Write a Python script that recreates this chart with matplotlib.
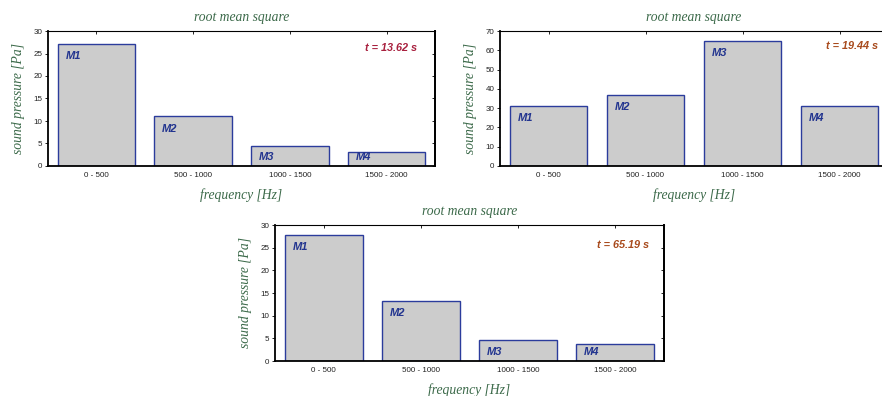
import matplotlib.pyplot as plt
import numpy as np

# category labels and bar names
bands = ["0 - 500", "500 - 1000", "1000 - 1500", "1500 - 2000"]
mic_names = ["M1", "M2", "M3", "M4"]

# rms sound pressure for each snapshot [Pa]
rms_t1 = [27.2, 11.0, 4.5, 3.1]
rms_t2 = [30.9, 36.8, 65.0, 31.0]
rms_t3 = [27.9, 13.2, 4.7, 3.8]

times = [13.62, 19.44, 65.19]
y_max = [30, 70, 30]
y_step = [5, 10, 5]

GREEN = "#3c6a4a"
BAR_EDGE = "#2b3c9c"
LABEL_BLUE = "#22348f"
TIME_COLORS = ["#a8203e", "#a84a1c", "#a84a1c"]

W, H = 882, 396


def px_axes(fig, left, top, right, bottom):
    return fig.add_axes([left / W, 1 - bottom / H, (right - left) / W, (bottom - top) / H])


def draw_panel(ax, values, t, ymax, step, tcolor, tpos, right_spine=True):
    x = np.arange(len(values))
    ax.bar(x, values, width=0.8, color="#cccccc", edgecolor=BAR_EDGE, linewidth=1.0)

    for i, (name, v) in enumerate(zip(mic_names, values)):
        ty = max(v - 0.089 * ymax, 0.067 * ymax)
        ax.text(i - 0.32, ty, name, ha="left", va="center", fontsize=8,
                fontweight="bold", fontstyle="italic", color=LABEL_BLUE,
                family="Liberation Sans")

    ax.text(tpos[0], tpos[1], f"t = {t:.2f} s", transform=ax.transAxes,
            ha="right", va="center", fontsize=7.8, fontweight="bold",
            fontstyle="italic", color=tcolor, family="Liberation Sans")

    ax.set_xlim(-0.5, 3.5)
    ax.set_ylim(0, ymax)
    ticks = np.arange(0, ymax + 1, step)
    ax.set_yticks(ticks)
    ax.set_xticks(x)
    ax.set_xticklabels(bands)
    ax.tick_params(axis="x", which="both", bottom=False, top=True, direction="in",
                   length=2, width=0.6, labelsize=5.8, pad=4)
    ax.tick_params(axis="y", left=True, right=False, direction="out", length=2.5,
                   width=0.6, labelsize=5.8, pad=1.5)
    for lab in ax.get_xticklabels() + ax.get_yticklabels():
        lab.set_family("Liberation Sans")
        lab.set_color("#222222")

    ax.spines["left"].set_linewidth(1.3)
    ax.spines["bottom"].set_linewidth(1.3)
    ax.spines["right"].set_linewidth(1.3)
    ax.spines["top"].set_linewidth(0.8)
    if right_spine:
        # inward ticks on the right side only
        sec = ax.secondary_yaxis("right")
        sec.set_yticks(ticks)
        sec.tick_params(direction="in", length=2.5, width=0.6, labelright=False)
        sec.spines["right"].set_linewidth(1.3)
    else:
        ax.spines["right"].set_visible(False)

    serif = dict(family="Liberation Serif", fontstyle="italic", color=GREEN, fontsize=9.8)
    ax.set_title("root mean square", pad=7, **serif)
    ax.set_xlabel("frequency [Hz]", labelpad=7, **serif)
    ax.set_ylabel("sound pressure [Pa]", labelpad=6, **serif)


fig = plt.figure(figsize=(W / 100, H / 100), dpi=100)

ax1 = px_axes(fig, 48, 31, 435, 166)
ax2 = px_axes(fig, 500, 31, 888, 166)
ax3 = px_axes(fig, 275, 225, 664, 361)

draw_panel(ax1, rms_t1, times[0], y_max[0], y_step[0], TIME_COLORS[0], (0.953, 0.874))
# ax2 runs past the right edge of the figure, like the reference
draw_panel(ax2, rms_t2, times[1], y_max[1], y_step[1], TIME_COLORS[1], (0.975, 0.89),
           right_spine=False)
draw_panel(ax3, rms_t3, times[2], y_max[2], y_step[2], TIME_COLORS[2], (0.962, 0.853))

fig.savefig("out.png", dpi=100)
